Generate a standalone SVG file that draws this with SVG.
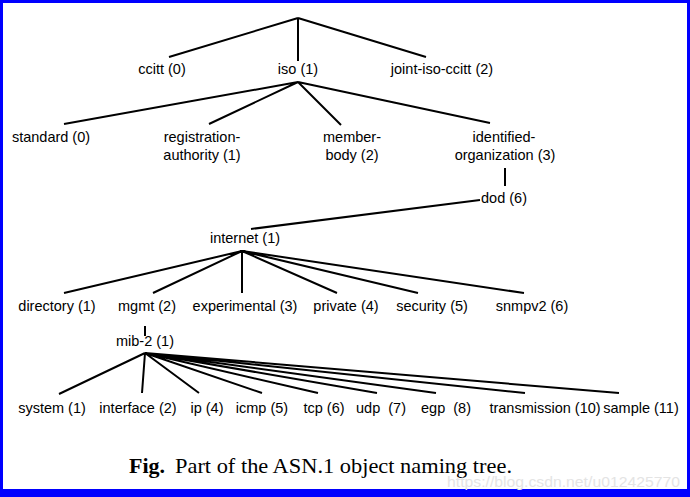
<svg xmlns="http://www.w3.org/2000/svg" width="690" height="497" viewBox="0 0 690 497">
<style>
.lbl{font-family:"Liberation Sans",Arial,sans-serif;font-size:14.5px;fill:#000;text-anchor:middle}
.edge{stroke:#000;stroke-width:2;fill:none;stroke-linecap:butt}
.cap{font-family:"Liberation Serif","Times New Roman",serif;font-size:22px;fill:#000}
.wm{font-family:"Liberation Sans",Arial,sans-serif;font-size:14px;fill:#e4e4e4}
</style>
<rect x="0" y="0" width="690" height="497" fill="#0000ff"/>
<rect x="3" y="3" width="684" height="486" fill="#ffffff"/>
<g id="connectors" class="edge">
<path d="M298,18 L169,57 M298,18 L298,61 M298,18 L426,57"/>
<path d="M298,82 L64,124 M298,82 L209,124 M298,82 L341,125 M298,82 L490,123"/>
<path d="M505,168 L505,186"/>
<path d="M480,200 L251,229"/>
<path d="M242,251 L64,293 M242,251 L153,293 M242,251 L242,293 M242,251 L337,293 M242,251 L418,293 M242,251 L524,293"/>
<path d="M145,326 L145,336"/>
<path d="M145,353 L59,394 M145,353 L142,393 M145,353 L199,393 M145,353 L262,393 M145,353 L318,393 M145,353 L377,393 M145,353 L436,393 M145,353 L525,393 M145,353 L619,393"/>
</g>
<g id="ccitt"><text class="lbl" x="162" y="74">ccitt (0)</text></g>
<g id="iso"><text class="lbl" x="298" y="74">iso (1)</text></g>
<g id="joint-iso-ccitt"><text class="lbl" x="442" y="74">joint-iso-ccitt (2)</text></g>
<g id="standard"><text class="lbl" x="51" y="142">standard (0)</text></g>
<g id="registration-authority"><text class="lbl" x="202" y="142">registration-</text><text class="lbl" x="202" y="160">authority (1)</text></g>
<g id="member-body"><text class="lbl" x="352" y="142">member-</text><text class="lbl" x="352" y="160">body (2)</text></g>
<g id="identified-organization"><text class="lbl" x="504" y="142">identified-</text><text class="lbl" x="505" y="160">organization (3)</text></g>
<g id="dod"><text class="lbl" x="504" y="203">dod (6)</text></g>
<g id="internet"><text class="lbl" x="245" y="243">internet (1)</text></g>
<g id="directory"><text class="lbl" x="57" y="311">directory (1)</text></g>
<g id="mgmt"><text class="lbl" x="147" y="311">mgmt (2)</text></g>
<g id="experimental"><text class="lbl" x="245" y="311">experimental (3)</text></g>
<g id="private"><text class="lbl" x="346" y="311">private (4)</text></g>
<g id="security"><text class="lbl" x="432" y="311">security (5)</text></g>
<g id="snmpv2"><text class="lbl" x="532" y="311">snmpv2 (6)</text></g>
<g id="mib-2"><text class="lbl" x="145" y="346">mib-2 (1)</text></g>
<g id="system"><text class="lbl" x="52" y="413">system (1)</text></g>
<g id="interface"><text class="lbl" x="138" y="413">interface (2)</text></g>
<g id="ip"><text class="lbl" x="207" y="413">ip (4)</text></g>
<g id="icmp"><text class="lbl" x="262" y="413">icmp (5)</text></g>
<g id="tcp"><text class="lbl" x="324" y="413">tcp (6)</text></g>
<g id="udp"><text class="lbl" x="381" y="413" xml:space="preserve">udp  (7)</text></g>
<g id="egp"><text class="lbl" x="446" y="413" xml:space="preserve">egp  (8)</text></g>
<g id="transmission"><text class="lbl" x="545" y="413">transmission (10)</text></g>
<g id="sample"><text class="lbl" x="641" y="413">sample (11)</text></g>
<text class="cap" x="129" y="473" font-weight="bold">Fig.</text>
<text class="cap" x="175" y="473" textLength="337" lengthAdjust="spacingAndGlyphs">Part of the ASN.1 object naming tree.</text>
<text class="wm" x="447" y="487" textLength="233" lengthAdjust="spacingAndGlyphs">https://blog.csdn.net/u012425770</text>
</svg>
